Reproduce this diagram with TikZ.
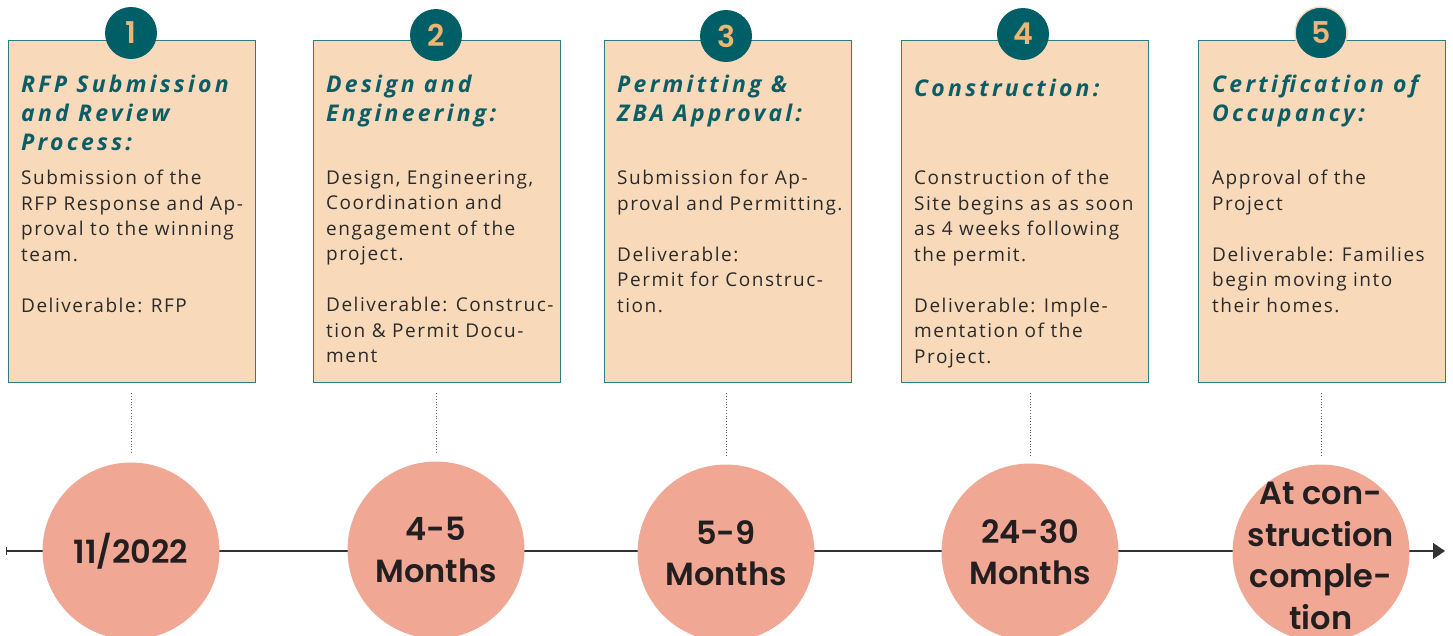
\documentclass[tikz,border=0pt]{standalone}
\usepackage{fontspec}
\setmainfont{Open Sans}
\newfontfamily\bodyfont{Open Sans}[LetterSpace=8]
\newfontfamily\titlefont{Open Sans}[LetterSpace=14]
\newfontfamily\circfont{Poppins SemiBold}
\usetikzlibrary{arrows.meta}
\definecolor{boxfill}{HTML}{F8DABB}
\definecolor{boxline}{HTML}{2E7B80}
\definecolor{badgefill}{HTML}{005F66}
\definecolor{badgenum}{HTML}{F0B572}
\definecolor{titlecol}{HTML}{0B5E66}
\definecolor{bodycol}{HTML}{2B2A29}
\definecolor{discfill}{HTML}{F0A794}
\definecolor{disctext}{HTML}{231F20}
\tikzset{
  stepbox/.style={draw=boxline, line width=1.2pt, fill=boxfill, minimum width=247pt,
    minimum height=342pt, anchor=north west, inner sep=0pt},
  badge/.style={circle, fill=badgefill, minimum size=52pt, inner sep=0pt,
    text=badgenum, font=\circfont\fontsize{30}{30}\selectfont},
  titletext/.style={anchor=north west, inner sep=0pt, align=left, text=titlecol,
    font=\titlefont\bfseries\itshape\fontsize{23}{29}\selectfont},
  bodytext/.style={anchor=north west, inner sep=0pt, align=left, text=bodycol,
    font=\bodyfont\fontsize{19}{25.5}\selectfont},
  disc/.style={circle, fill=discfill, minimum size=177pt, inner sep=0pt},
  disclabel/.style={inner sep=0pt, align=center, text=disctext,
    font=\circfont\fontsize{32}{41.5}\selectfont},
  link/.style={draw=black!60, line width=0.8pt, dotted, shorten <=10pt, shorten >=8pt},
  axis/.style={draw=black!80, line width=1.3pt,
    {Bar[width=8pt,line width=1pt]}-{Triangle[width=16pt,length=12pt]}}
}
\begin{document}
\begin{tikzpicture}[x=1pt,y=-1pt]
\clip (0,0) rectangle (1453,635);
\useasboundingbox (0,0) rectangle (1453,635);

% timeline axis
\coordinate (axl) at (6,551);
\coordinate (axr) at (1445,551);
\draw[axis] (axl) -- (axr);

% step boxes
\node[stepbox] (b1) at (8,40) {};
\node[stepbox] (b2) at (313,40) {};
\node[stepbox] (b3) at (604,40) {};
\node[stepbox] (b4) at (901,40) {};
\node[stepbox] (b5) at (1198,40) {};

% numbered badges
\node[badge] (n1) at (131,33) {1};
\node[badge] (n2) at (436,35) {2};
\node[badge] (n3) at (726,36) {3};
\node[badge] (n4) at (1023,34) {4};
\node[badge, draw=boxfill, line width=1.5pt] (n5) at (1321,33) {5};

% titles
\node[titletext] (t1) at (21,75) {RFP Submission\\and Review\\Process:};
\node[titletext] (t2) at (326,75) {Design and\\Engineering:};
\node[titletext] (t3) at (617,75) {Permitting \&\\ZBA Approval:};
\node[titletext] (t4) at (914,79) {Construction:};
\node[titletext] (t5) at (1212,75) {Certification of\\Occupancy:};

% descriptions
\node[bodytext] (d1) at (21,170) {Submission of the\\RFP Response and Ap-\\proval to the winning\\team.\\[25.5pt]Deliverable: RFP};
\node[bodytext] (d2) at (326,170) {Design, Engineering,\\Coordination and\\engagement of the\\project.\\[25.5pt]Deliverable: Construc-\\tion \& Permit Docu-\\ment};
\node[bodytext] (d3) at (617,170) {Submission for Ap-\\proval and Permitting.\\[25.5pt]Deliverable:\\Permit for Construc-\\tion.};
\node[bodytext] (d4) at (914,170) {Construction of the\\Site begins as as soon\\as 4 weeks following\\the permit.\\[25.5pt]Deliverable: Imple-\\mentation of the\\Project.};
\node[bodytext] (d5) at (1212,170) {Approval of the\\Project\\[25.5pt]Deliverable: Families\\begin moving into\\their homes.};

% milestone discs
\node[disc] (c1) at (131,551) {};
\node[disc] (c2) at (436,550) {};
\node[disc] (c3) at (726,553) {};
\node[disc] (c4) at (1030,552) {};
\node[disc] (c5) at (1321,553) {};

% milestone labels
\node[disclabel] (l1) at (c1) {11/2022};
\node[disclabel] (l2) at (c2) {4-5\\Months};
\node[disclabel] (l3) at (c3) {5-9\\Months};
\node[disclabel] (l4) at (c4) {24-30\\Months};
\node[disclabel] (l5) at ([yshift=-3pt]c5.center) {At con-\\struction\\comple-\\tion};

% dotted links from boxes to discs
\draw[link] (c1.north |- b1.south) -- (c1.north);
\draw[link] (c2.north |- b2.south) -- (c2.north);
\draw[link] (c3.north |- b3.south) -- (c3.north);
\draw[link] (c4.north |- b4.south) -- (c4.north);
\draw[link] (c5.north |- b5.south) -- (c5.north);
\end{tikzpicture}
\end{document}
